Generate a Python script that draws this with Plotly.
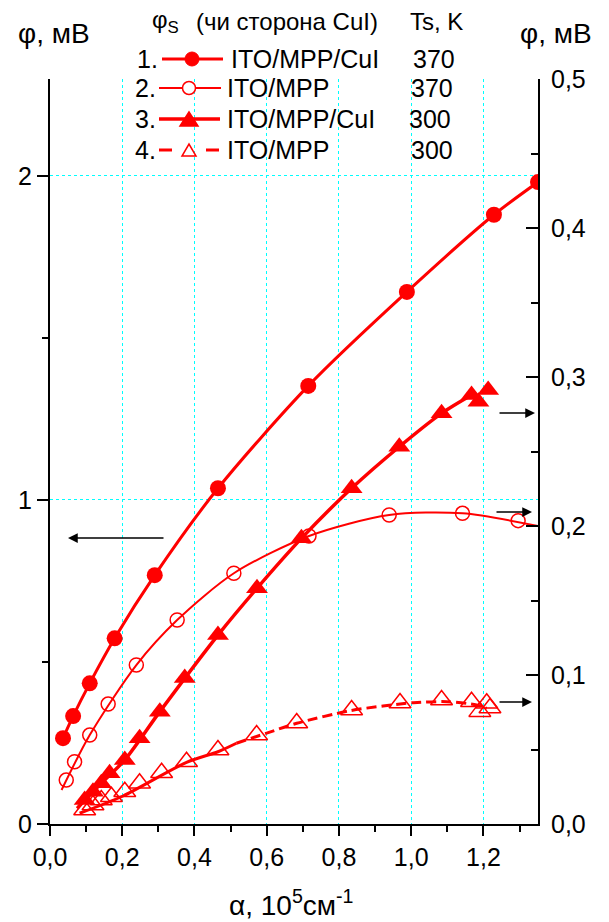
import plotly.graph_objects as go

# ---------------- data ----------------
# Curve 1: ITO/MPP/CuI, Ts=370 K  (left axis, mV)
c1_x = [0.036, 0.064, 0.110, 0.179, 0.290, 0.465, 0.715, 0.988, 1.229, 1.351]
c1_y = [0.265, 0.333, 0.434, 0.573, 0.768, 1.036, 1.352, 1.642, 1.880, 1.981]

# Curve 2: ITO/MPP, Ts=370 K  (right axis, mV)
c2_x = [0.045, 0.068, 0.110, 0.161, 0.239, 0.352, 0.509, 0.717, 0.939, 1.142, 1.296]
c2_y = [0.0295, 0.0418, 0.0597, 0.0805, 0.1067, 0.1369, 0.1683, 0.1933, 0.2074, 0.2085, 0.2036]
c2_fit_x = [0.032, 0.110, 0.239, 0.352, 0.509, 0.717, 0.939, 1.142, 1.351]
c2_fit_y = [0.0228, 0.0597, 0.1067, 0.1369, 0.1683, 0.1933, 0.2074, 0.2085, 0.2000]

# Curve 3: ITO/MPP/CuI, Ts=300 K  (right axis, mV)
c3_x = [0.096, 0.119, 0.142, 0.165, 0.207, 0.248, 0.304, 0.373, 0.465, 0.573,
        0.696, 0.835, 0.967, 1.084, 1.167, 1.186, 1.213]
c3_y = [0.0161, 0.0217, 0.0273, 0.0340, 0.0430, 0.0575, 0.0754, 0.0980, 0.1268, 0.1582,
        0.1917, 0.2253, 0.2532, 0.2756, 0.2879, 0.2834, 0.2913]
c3_fit_x = [0.075, 0.142, 0.207, 0.304, 0.465, 0.573, 0.696, 0.835, 0.967, 1.084, 1.167]
c3_fit_y = [0.0105, 0.0273, 0.0430, 0.0754, 0.1268, 0.1582, 0.1917, 0.2253, 0.2532, 0.2756, 0.2879]

# Curve 4: ITO/MPP, Ts=300 K  (right axis, mV)
c4_x = [0.096, 0.119, 0.142, 0.170, 0.207, 0.248, 0.309, 0.378, 0.465, 0.572,
        0.683, 0.835, 0.969, 1.084, 1.167, 1.209, 1.190, 1.218]
c4_y = [0.0094, 0.0128, 0.0161, 0.0183, 0.0217, 0.0273, 0.0344, 0.0418, 0.0497, 0.0597,
        0.0678, 0.0765, 0.0812, 0.0832, 0.0821, 0.0810, 0.0754, 0.0779]
c4_fit_solid_x = [0.082, 0.202, 0.378, 0.465, 0.516]
c4_fit_solid_y = [0.0072, 0.0188, 0.0414, 0.0485, 0.0542]
c4_fit_dash_x = [0.516, 0.600, 0.683, 0.830, 0.922, 1.006, 1.098, 1.181, 1.209]
c4_fit_dash_y = [0.0542, 0.0610, 0.0676, 0.0760, 0.0792, 0.0814, 0.0821, 0.0799, 0.0776]

x_ticks = [0.0, 0.2, 0.4, 0.6, 0.8, 1.0, 1.2]
x_ticktext = ["0,0", "0,2", "0,4", "0,6", "0,8", "1,0", "1,2"]
yl_ticks = [0, 1, 2]
yl_ticktext = ["0", "1", "2"]
yr_ticks = [0.0, 0.1, 0.2, 0.3, 0.4, 0.5]
yr_ticktext = ["0,0", "0,1", "0,2", "0,3", "0,4", "0,5"]

legend_num = ["1.", "2.", "3.", "4."]
legend_name = ["ITO/MPP/CuI", "ITO/MPP", "ITO/MPP/CuI", "ITO/MPP"]
legend_ts = ["370", "370", "300", "300"]

# ---------------- styling ----------------
FONT = "Liberation Sans, Arial, Helvetica, sans-serif"
FS = 25
RED = "#FF0000"
GRID = "#00FFFF"
W, H = 609, 922
L, R, T, B = 50, 538, 79, 824


def px(x):
    return (x - L) / (R - L)


def py(y):
    return (B - y) / (B - T)


fig = go.Figure()

# Curve 1
fig.add_trace(go.Scatter(x=c1_x, y=c1_y, mode="lines+markers", yaxis="y",
                         line=dict(color=RED, width=3, shape="spline", smoothing=0.8),
                         marker=dict(symbol="circle", size=16, color=RED), showlegend=False))
# Curve 2
fig.add_trace(go.Scatter(x=c2_fit_x, y=c2_fit_y, mode="lines", yaxis="y2",
                         line=dict(color=RED, width=2, shape="spline", smoothing=0.8), showlegend=False))
fig.add_trace(go.Scatter(x=c2_x, y=c2_y, mode="markers", yaxis="y2",
                         marker=dict(symbol="circle-open", size=14, color=RED, line=dict(width=1.5)),
                         showlegend=False))
# Curve 3
fig.add_trace(go.Scatter(x=c3_fit_x, y=c3_fit_y, mode="lines", yaxis="y2",
                         line=dict(color=RED, width=3.5, shape="spline", smoothing=0.8), showlegend=False))
fig.add_trace(go.Scatter(x=c3_x, y=c3_y, mode="markers", yaxis="y2",
                         marker=dict(symbol="triangle-up", size=19, color=RED), showlegend=False))
# Curve 4
fig.add_trace(go.Scatter(x=c4_fit_solid_x, y=c4_fit_solid_y, mode="lines", yaxis="y2",
                         line=dict(color=RED, width=3, shape="spline", smoothing=0.8), showlegend=False))
fig.add_trace(go.Scatter(x=c4_fit_dash_x, y=c4_fit_dash_y, mode="lines", yaxis="y2",
                         line=dict(color=RED, width=3, shape="spline", smoothing=0.8, dash="10px,5px"),
                         showlegend=False))
fig.add_trace(go.Scatter(x=c4_x, y=c4_y, mode="markers", yaxis="y2",
                         marker=dict(symbol="triangle-up-open", size=19, color=RED, line=dict(width=1.5)),
                         showlegend=False))

tickfont = dict(family=FONT, size=FS, color="black")

fig.update_layout(
    width=W, height=H,
    margin=dict(l=L, r=W - R, t=T, b=H - B, pad=0),
    paper_bgcolor="white", plot_bgcolor="white",
    font=dict(family=FONT, size=FS, color="black"),
    showlegend=False,
    xaxis=dict(range=[0, 1.351], tickvals=x_ticks, ticktext=x_ticktext, tickfont=tickfont,
               ticks="outside", ticklen=10, tickwidth=2, tickcolor="black",
               showline=True, linewidth=2, linecolor="black", mirror=False,
               showgrid=True, gridcolor=GRID, griddash="dot", gridwidth=1, zeroline=False,
               minor=dict(tick0=0, dtick=0.1, ticks="outside", ticklen=6, tickwidth=2,
                          tickcolor="black", showgrid=False)),
    yaxis=dict(range=[0, 2.299], tickvals=yl_ticks, ticktext=yl_ticktext, tickfont=tickfont,
               ticks="outside", ticklen=11, tickwidth=2, tickcolor="black",
               showline=True, linewidth=2, linecolor="black", mirror=False,
               showgrid=True, gridcolor=GRID, griddash="dot", gridwidth=1, zeroline=False,
               minor=dict(tick0=0, dtick=0.5, ticks="outside", ticklen=6, tickwidth=2,
                          tickcolor="black", showgrid=False)),
    yaxis2=dict(range=[0, 0.5], overlaying="y", side="right", tickvals=yr_ticks, ticktext=yr_ticktext,
                tickfont=tickfont, ticks="inside", ticklen=12, tickwidth=2, tickcolor="black",
                showline=True, linewidth=2, linecolor="black", showgrid=False, zeroline=False,
                ticklabelstandoff=6,
                minor=dict(tick0=0, dtick=0.05, ticks="inside", ticklen=7, tickwidth=2,
                           tickcolor="black", showgrid=False)),
)

ann = []
shapes = []


def text(x, y, s, anchor="left", size=FS):
    ann.append(dict(x=px(x), y=py(y), xref="paper", yref="paper", text=s, showarrow=False,
                    xanchor=anchor, yanchor="middle", font=dict(family=FONT, size=size, color="black")))


# axis titles
text(16, 34, "φ, мВ", size=28)
text(518, 34, "φ, мВ", size=28)
text(291, 903, "α, 10<sup>5</sup>см<sup>-1</sup>", anchor="center", size=28)

# legend header
text(150, 21, "φ<sub>S</sub>", size=24)
text(194, 21, "(чи сторона CuI)", size=24)
text(408, 21, "Ts, K", size=24)

rows_y = [59, 88, 119, 150]
num_x = [160, 158, 158, 158]
line_x0 = [162, 159, 159, 159]
line_x1 = [223, 221, 220, 219]
mark_x = [192, 189, 189, 189]
name_x = [229, 225, 225, 225]
ts_x = [411, 409, 407, 409]
for i in range(4):
    y = rows_y[i]
    text(num_x[i], y, legend_num[i], anchor="right")
    text(name_x[i], y, legend_name[i])
    text(ts_x[i], y, legend_ts[i])
    lw = [3, 2, 3.5, 3][i]
    if i < 3:
        shapes.append(dict(type="line", xref="paper", yref="paper", x0=px(line_x0[i]), x1=px(line_x1[i]),
                           y0=py(y), y1=py(y), line=dict(color=RED, width=lw)))
    else:
        shapes.append(dict(type="line", xref="paper", yref="paper", x0=px(159), x1=px(172),
                           y0=py(y), y1=py(y), line=dict(color=RED, width=lw)))
        shapes.append(dict(type="line", xref="paper", yref="paper", x0=px(206), x1=px(219),
                           y0=py(y), y1=py(y), line=dict(color=RED, width=lw)))
    cx = mark_x[i]
    if i == 0:
        shapes.append(dict(type="circle", xref="paper", yref="paper", x0=px(cx - 7), x1=px(cx + 7),
                           y0=py(y + 7), y1=py(y - 7), fillcolor=RED, line=dict(color=RED, width=1)))
    elif i == 1:
        shapes.append(dict(type="circle", xref="paper", yref="paper", x0=px(cx - 6.5), x1=px(cx + 6.5),
                           y0=py(y + 6.5), y1=py(y - 6.5), fillcolor="white", line=dict(color=RED, width=1.5)))
    else:
        hw, h = (9, 14) if i == 2 else (7, 12)
        path = "M {a},{b} L {c},{d} L {e},{f} Z".format(
            a=px(cx - hw), b=py(y + h / 2), c=px(cx + hw), d=py(y + h / 2), e=px(cx), f=py(y - h / 2))
        shapes.append(dict(type="path", xref="paper", yref="paper", path=path,
                           fillcolor=RED if i == 2 else "white", line=dict(color=RED, width=1.5)))


# arrows
def arrow(x_head, y_head, dx):
    ann.append(dict(x=px(x_head), y=py(y_head), xref="paper", yref="paper", text="", showarrow=True,
                    ax=dx, ay=0, arrowhead=2, arrowsize=1.3, arrowwidth=1.5, arrowcolor="black"))


arrow(68, 538, 97)
arrow(535, 413, -37)
arrow(532, 512, -37)
arrow(532, 702, -34)

fig.update_layout(annotations=ann, shapes=shapes)
fig.write_html("out.html", config={"displayModeBar": False},
               post_script="document.body.style.margin='0px';")
